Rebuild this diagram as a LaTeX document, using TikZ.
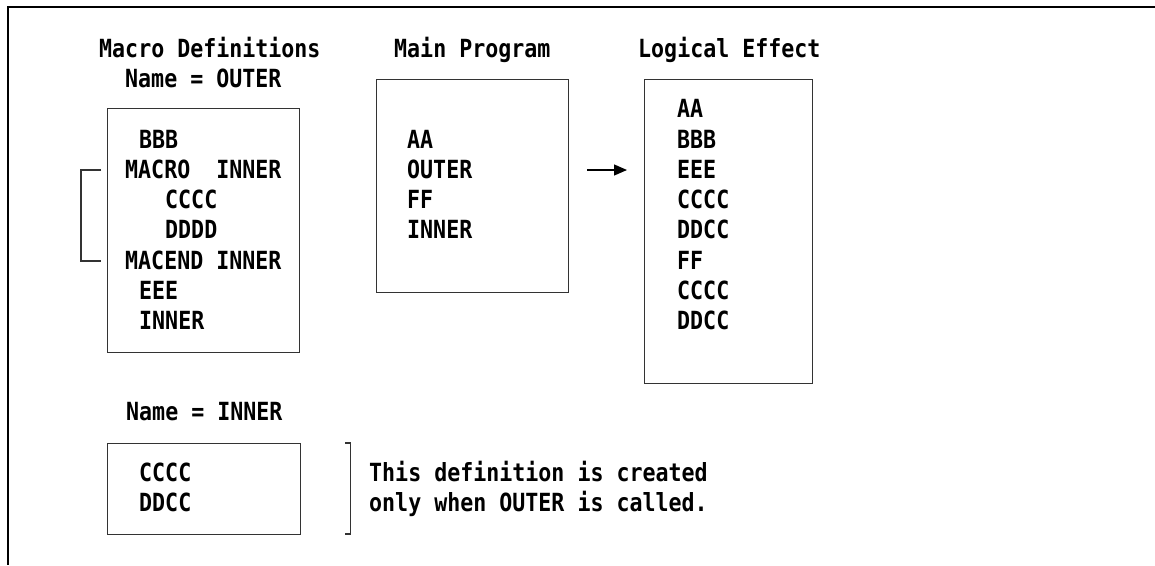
\documentclass[tikz,border=0pt]{standalone}
\usepackage{fontspec}
\newfontfamily\mono{DejaVu Sans Mono}[FakeStretch=0.865]
\usetikzlibrary{arrows.meta}
\begin{document}
\begin{tikzpicture}[x=1pt,y=-1pt,
  txt/.style={anchor=base west, inner sep=0pt, font=\mono\bfseries\fontsize{25}{30}\selectfont},
  boxst/.style={draw=black!80, line width=1.3pt, anchor=north west, inner sep=0pt},
  brk/.style={draw=black!80, line width=1.3pt},
  arr/.style={line width=1.3pt, -{Triangle[length=13pt,width=11pt]}}
]
\useasboundingbox (0,0) rectangle (1155,565);
\draw[line width=2pt] (1155,6.5) -- (8,6.5) -- (8,565);

% titles
\node[txt] (tdef) at (99,57.1) {Macro Definitions};
\node[txt] (touter) at (125,87.4) {Name = OUTER};
\node[txt] (tmain) at (394,57.1) {Main Program};
\node[txt] (tlog) at (638,57.1) {Logical Effect};
\node[txt] (tinner) at (126,420.7) {Name = INNER};

% boxes
\node[boxst, minimum width=192pt, minimum height=244pt] (box1) at (107,108) {};
\node[boxst, minimum width=192pt, minimum height=213pt] (box2) at (376,79) {};
\node[boxst, minimum width=168pt, minimum height=304pt] (box3) at (644,79) {};
\node[boxst, minimum width=193pt, minimum height=91pt] (box4) at (107,443) {};

% box 1 contents
\node[txt] (a1) at (139,148) {BBB};
\node[txt] (a2) at (125,178.3) {MACRO\ \ INNER};
\node[txt] (a3) at (165,208.6) {CCCC};
\node[txt] (a4) at (165,238.9) {DDDD};
\node[txt] (a5) at (125,269.2) {MACEND\ INNER};
\node[txt] (a6) at (139,299.5) {EEE};
\node[txt] (a7) at (139,329.8) {INNER};

% box 2 contents
\node[txt] (m1) at (407,148) {AA};
\node[txt] (m2) at (407,178.3) {OUTER};
\node[txt] (m3) at (407,208.6) {FF};
\node[txt] (m4) at (407,238.9) {INNER};

% box 3 contents
\node[txt] (l1) at (677,117.7) {AA};
\node[txt] (l2) at (677,148) {BBB};
\node[txt] (l3) at (677,178.3) {EEE};
\node[txt] (l4) at (677,208.6) {CCCC};
\node[txt] (l5) at (677,238.9) {DDCC};
\node[txt] (l6) at (677,269.2) {FF};
\node[txt] (l7) at (677,299.5) {CCCC};
\node[txt] (l8) at (677,329.8) {DDCC};

% box 4 contents
\node[txt] (i1) at (139,481.3) {CCCC};
\node[txt] (i2) at (139,511.6) {DDCC};

% note
\node[txt] (n1) at (369,481.3) {This definition is created};
\node[txt] (n2) at (369,511.6) {only when OUTER is called.};

% brackets
\draw[brk] (101,170) -- (81,170) -- (81,261) -- (101,261);
\draw[brk] (box4.north east) ++(44,0) -- ++(5,0) -- ++(0,91) -- ++(-5,0);

% arrow
\coordinate (as) at (587,170);
\coordinate (ae) at (627,170);
\draw[arr] (as) -- (ae);
\end{tikzpicture}
\end{document}
